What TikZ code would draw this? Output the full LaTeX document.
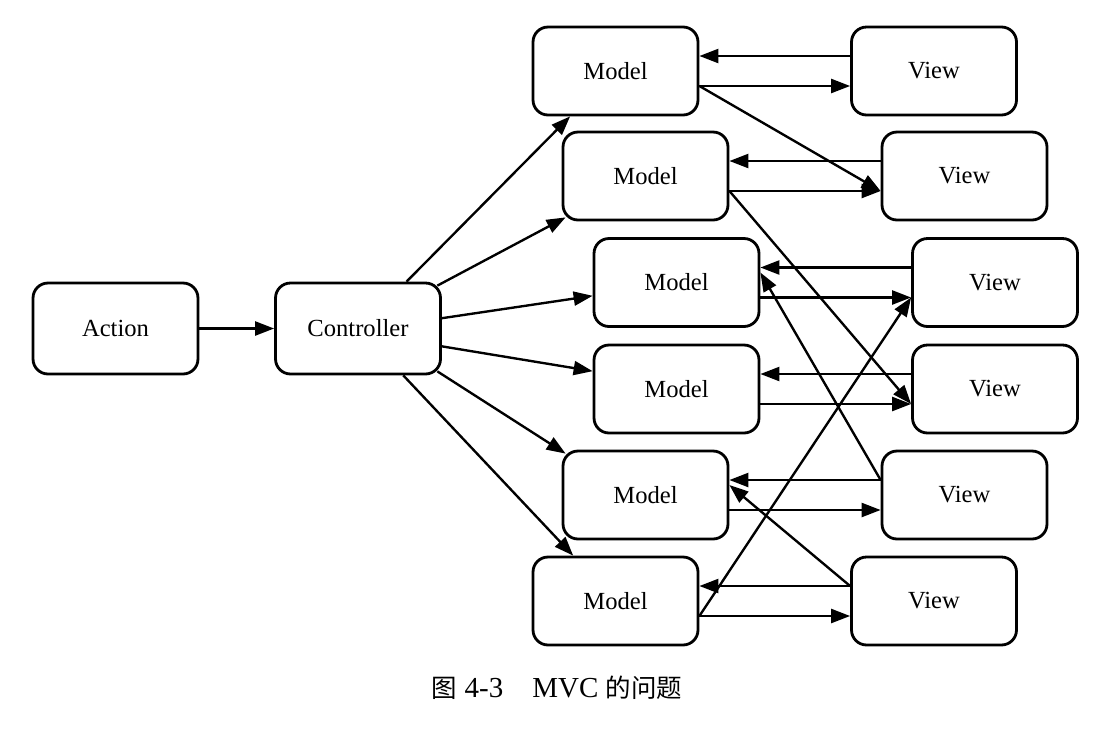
\documentclass[tikz,border=0pt]{standalone}
\usepackage{fontspec}
\setmainfont{Liberation Serif}
\newfontfamily\cjk{Noto Sans CJK SC}
\usetikzlibrary{arrows.meta}
\newcommand{\zh}[1]{{\fontsize{14.5}{18}\cjk #1}}

\begin{document}
\begin{tikzpicture}[x=0.02cm,y=-0.02cm,
   rbox/.style={draw=black,line width=1.6pt,rounded corners=0.3cm,
     minimum width=3.3cm,minimum height=1.76cm,inner sep=0pt,
     font=\fontsize{14}{16}\selectfont},
   link/.style={line width=1.35pt,-{Triangle[length=0.38cm,width=0.28cm]}}]
   \useasboundingbox (0,0) rectangle (1118,734);
   % action and controller
   \node[rbox,minimum height=1.82cm] (act) at (115.5,328.5) {Action};
   \node[rbox,minimum height=1.82cm] (ctrl) at (358,328.5) {Controller};
   % models
   \node[rbox] (m1) at (615.5,71) {Model};
   \node[rbox] (m2) at (645.5,176) {Model};
   \node[rbox] (m3) at (676.5,282.5) {Model};
   \node[rbox] (m4) at (676.5,389) {Model};
   \node[rbox] (m5) at (645.5,495) {Model};
   \node[rbox] (m6) at (615.5,601) {Model};
   % views
   \node[rbox] (v1) at (934,71) {View};
   \node[rbox] (v2) at (964.5,176) {View};
   \node[rbox] (v3) at (995,282.5) {View};
   \node[rbox] (v4) at (995,389) {View};
   \node[rbox] (v5) at (964.5,495) {View};
   \node[rbox] (v6) at (934,601) {View};
   % controller fan
   \draw[link] (act) -- (ctrl);
   \draw[link] (ctrl.44) -- (m1.225);
   \draw[link] ([shift={(-0.09cm,-0.08cm)}]ctrl.north east)
     -- ([shift={(0.08cm,0.08cm)}]m2.south west);
   \draw[link] (ctrl.7.5) -- (m3.189.7);
   \draw[link] (ctrl.-12.2) -- (m4.168.6);
   \draw[link] ([shift={(-0.09cm,0.08cm)}]ctrl.south east)
     -- ([shift={(0.08cm,-0.08cm)}]m5.north west);
   \draw[link] (ctrl.-46.6) -- (m6.133.4);
   % model <-> view pairs
   \draw[link] ([yshift=0.3cm]v1.west) -- ([yshift=0.3cm]m1.east);
   \draw[link] ([yshift=-0.3cm]m1.east) -- ([yshift=-0.3cm]v1.west);
   \draw[link] ([yshift=0.3cm]v2.west) -- ([yshift=0.3cm]m2.east);
   \draw[link] ([yshift=-0.3cm]m2.east) -- ([yshift=-0.3cm]v2.west);
   \draw[link] ([yshift=0.3cm]v3.west) -- ([yshift=0.3cm]m3.east);
   \draw[link] ([yshift=-0.3cm]m3.east) -- ([yshift=-0.3cm]v3.west);
   \draw[link] ([yshift=0.3cm]v4.west) -- ([yshift=0.3cm]m4.east);
   \draw[link] ([yshift=-0.3cm]m4.east) -- ([yshift=-0.3cm]v4.west);
   \draw[link] ([yshift=0.3cm]v5.west) -- ([yshift=0.3cm]m5.east);
   \draw[link] ([yshift=-0.3cm]m5.east) -- ([yshift=-0.3cm]v5.west);
   \draw[link] ([yshift=0.3cm]v6.west) -- ([yshift=0.3cm]m6.east);
   \draw[link] ([yshift=-0.3cm]m6.east) -- ([yshift=-0.3cm]v6.west);
   % crossing links
   \draw[link] ([yshift=-0.3cm]m1.east) -- ([yshift=-0.3cm]v2.west);
   \draw[link] ([yshift=-0.3cm]m2.east) -- ([yshift=-0.3cm]v4.west);
   \draw[link] ([yshift=0.3cm]v5.west) -- ([yshift=0.2cm]m3.east);
   \draw[link] ([yshift=-0.3cm]m6.east) -- ([yshift=-0.3cm]v3.west);
   \draw[link] ([yshift=0.3cm]v6.west) -- ([yshift=0.2cm]m5.east);
   % caption
   \node[font=\fontsize{16.5}{18}\selectfont] (cap) at (557,688)
     {\zh{图} 4-3\hspace{1em}MVC \zh{的问题}};
\end{tikzpicture}
\end{document}
